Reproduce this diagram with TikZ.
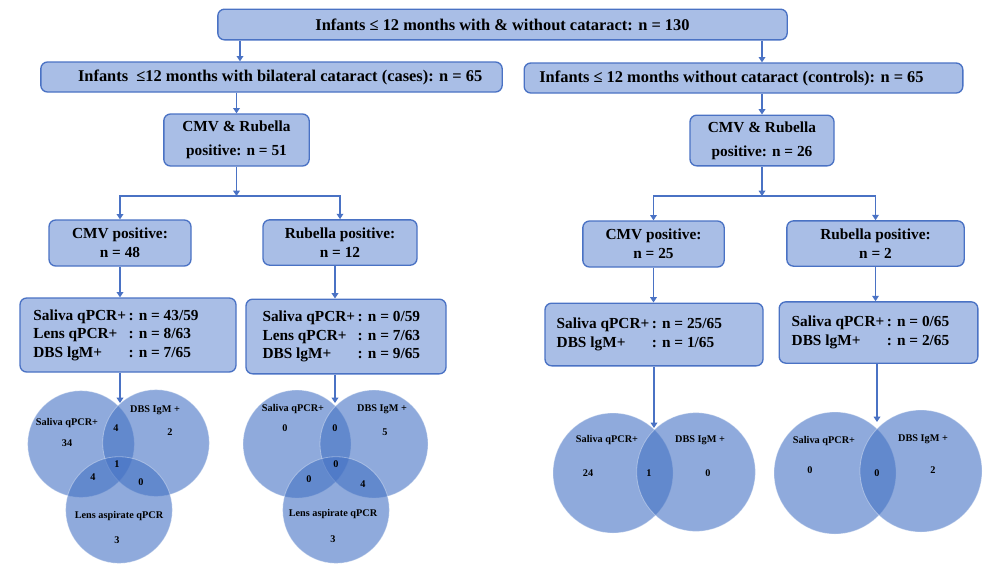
\documentclass[tikz,border=0pt]{standalone}
\usepackage{fontspec}
\setmainfont{Liberation Serif}
\usetikzlibrary{arrows.meta}
\definecolor{boxfill}{HTML}{A9BEE6}
\definecolor{boxline}{HTML}{4A72C4}
\definecolor{vennfill}{HTML}{4472C4}
\tikzset{
  box/.style={draw=boxline, fill=boxfill, line width=1pt, rounded corners=5pt,
    inner sep=0pt, font=\bfseries\fontsize{11.5}{14}\selectfont, align=center},
  wide/.style={font=\bfseries\fontsize{12.3}{14}\selectfont},
  arr/.style={draw=boxline, line width=0.9pt, -{Triangle[width=5pt,length=4pt]}},
  venn/.style={circle, fill=vennfill, fill opacity=0.6, draw=white, draw opacity=0.35,
    line width=0.6pt, inner sep=0pt},
  vlabel/.style={font=\bfseries\fontsize{7.7}{9}\selectfont, inner sep=0pt}
}
\begin{document}
\begin{tikzpicture}[x=0.75pt, y=-0.75pt]
    \useasboundingbox (0,0) rectangle (1000,569);

    % top of the chart
    \node[box, wide, minimum width=427pt, minimum height=23pt] (top) at (502.5,24.5)
        {Infants ≤ 12 months with \& without cataract: n = 130};
    \node[box, wide, minimum width=346pt, minimum height=22.5pt] (cases) at (271.5,77)
        {\hspace{13pt}Infants \ ≤12 months with bilateral cataract (cases): n = 65};
    \node[box, wide, minimum width=329pt, minimum height=22.5pt] (ctrl) at (743.5,78)
        {Infants ≤ 12 months without cataract (controls): n = 65\hspace{18pt}};

    \node[box, minimum width=109pt, minimum height=39pt] (cmvrubL) at (236.5,140)
        {CMV \& Rubella\\[4pt]positive: n = 51};
    \node[box, minimum width=108pt, minimum height=38pt] (cmvrubR) at (762,140.5)
        {CMV \& Rubella\\[4pt]positive: n = 26};

    % second level
    \node[box, minimum width=106.5pt, minimum height=34.5pt] (cmvL) at (120,243)
        {CMV positive:\\n = 48};
    \node[box, minimum width=115.5pt, minimum height=34pt] (rubL) at (340,242.5)
        {Rubella positive:\\n = 12};
    \node[box, minimum width=106pt, minimum height=34.5pt] (cmvR) at (653.5,244)
        {CMV positive:\\n = 25};
    \node[box, minimum width=133pt, minimum height=34pt] (rubR) at (875.5,243.5)
        {Rubella positive:\\n = 2};

    % test results
    \node[box, minimum width=162pt, minimum height=55.5pt] (salL) at (128,335)
        {\begin{tabular}{@{}l@{\,}l@{}}
         Saliva qPCR+ & : n = 43/59\\ Lens qPCR+ & : n = 8/63\\ DBS lgM+ & : n = 7/65
         \end{tabular}\hspace{18pt}};
    \node[box, minimum width=150pt, minimum height=56pt] (salL2) at (346,336.5)
        {\begin{tabular}{@{}l@{\,}l@{}}
         Saliva qPCR+ & : n = 0/59\\ Lens qPCR+ & : n = 7/63\\ DBS lgM+ & : n = 9/65
         \end{tabular}\hspace{7pt}};
    \node[box, minimum width=163.5pt, minimum height=47pt] (salR) at (654,334.5)
        {\begin{tabular}{@{}l@{\,}l@{}}
         Saliva qPCR+ & : n = 25/65\\ DBS lgM+ & : n = 1/65
         \end{tabular}\hspace{22pt}};
    \node[box, minimum width=149pt, minimum height=46pt] (salR2) at (878.5,332.5)
        {\begin{tabular}{@{}l@{\,}l@{}}
         Saliva qPCR+ & : n = 0/65\\ DBS lgM+ & : n = 2/65
         \end{tabular}\hspace{12pt}};

    % venn diagrams
    \node[venn, minimum size=80pt] (vA) at (81,444) {};
    \node[venn, minimum size=80pt] (vB) at (156,443) {};
    \node[venn, minimum size=80pt] (vC) at (119,510) {};
    \node[venn, minimum size=81pt] (wA) at (297,444) {};
    \node[venn, minimum size=81pt] (wB) at (374,444) {};
    \node[venn, minimum size=80pt] (wC) at (336,510) {};
    \node[venn, minimum size=90pt] (xA) at (613,473) {};
    \node[venn, minimum size=89pt] (xB) at (696,472) {};
    \node[venn, minimum size=91.5pt] (yA) at (835,473) {};
    \node[venn, minimum size=91.5pt] (yB) at (921,471) {};

    \coordinate (vtop) at (120,403);
    \coordinate (wtop) at (335,403);
    \coordinate (xtop) at (654,428);
    \coordinate (ytop) at (877,422);

    \node[vlabel] (vA1) at (67,423) {Saliva qPCR+};
    \node[vlabel] (vA2) at (67,443) {34};
    \node[vlabel] (vB1) at (155,410) {DBS IgM +};
    \node[vlabel] (vB2) at (170,432) {2};
    \node[vlabel] (vAB) at (116,428) {4};
    \node[vlabel] (vABC) at (117,464) {1};
    \node[vlabel] (vAC) at (93,477) {4};
    \node[vlabel] (vBC) at (141,482) {0};
    \node[vlabel] (vC1) at (119,516) {Lens aspirate qPCR};
    \node[vlabel] (vC2) at (117,540) {3};

    \node[vlabel] (wA1) at (293,409) {Saliva qPCR+};
    \node[vlabel] (wA2) at (285,428) {0};
    \node[vlabel] (wB1) at (382,409) {DBS IgM +};
    \node[vlabel] (wB2) at (385,432) {5};
    \node[vlabel] (wAB) at (335,428) {0};
    \node[vlabel] (wABC) at (336,464) {0};
    \node[vlabel] (wAC) at (309,479) {0};
    \node[vlabel] (wBC) at (363,484) {4};
    \node[vlabel] (wC1) at (333,514) {Lens aspirate qPCR};
    \node[vlabel] (wC2) at (333,539) {3};

    \node[vlabel] (xA1) at (607,440) {Saliva qPCR+};
    \node[vlabel] (xA2) at (588,473) {24};
    \node[vlabel] (xAB) at (649,473) {1};
    \node[vlabel] (xB1) at (700,440) {DBS IgM +};
    \node[vlabel] (xB2) at (708,473) {0};

    \node[vlabel] (yA1) at (824,441) {Saliva qPCR+};
    \node[vlabel] (yA2) at (810,470) {0};
    \node[vlabel] (yAB) at (877,473) {0};
    \node[vlabel] (yB1) at (923,439) {DBS IgM +};
    \node[vlabel] (yB2) at (933,470) {2};

    % arrows
    \draw[arr] (top.south -| 240,0) -- (cases.north -| 240,0);
    \draw[arr] (top.south -| cmvrubR.north) -- (ctrl.north -| cmvrubR.north);
    \draw[arr] (cases.south -| cmvrubL.north) -- (cmvrubL.north);
    \draw[arr] (ctrl.south -| cmvrubR.north) -- (cmvrubR.north);

    \coordinate (jL) at (236.5,196);
    \coordinate (jR) at (762,196);
    \draw[arr] (cmvrubL.south) -- (jL);
    \draw[arr] (jL) -| (cmvL.north);
    \draw[arr] (jL) -| (rubL.north);
    \draw[arr] (cmvrubR.south) -- (jR);
    \draw[arr] (jR) -| (cmvR.north);
    \draw[arr] (jR) -| (rubR.north);

    \draw[arr] (cmvL.south) -- (cmvL.south |- salL.north);
    \draw[arr] (rubL.south -| 335,0) -- (salL2.north -| 335,0);
    \draw[arr] (cmvR.south) -- (cmvR.south |- salR.north);
    \draw[arr] (rubR.south) -- (rubR.south |- salR2.north);

    \draw[arr] (salL.south -| vtop) -- (vtop);
    \draw[arr] (salL2.south -| wtop) -- (wtop);
    \draw[arr] (salR.south -| xtop) -- (xtop);
    \draw[arr] (salR2.south -| ytop) -- (ytop);
\end{tikzpicture}
\end{document}
